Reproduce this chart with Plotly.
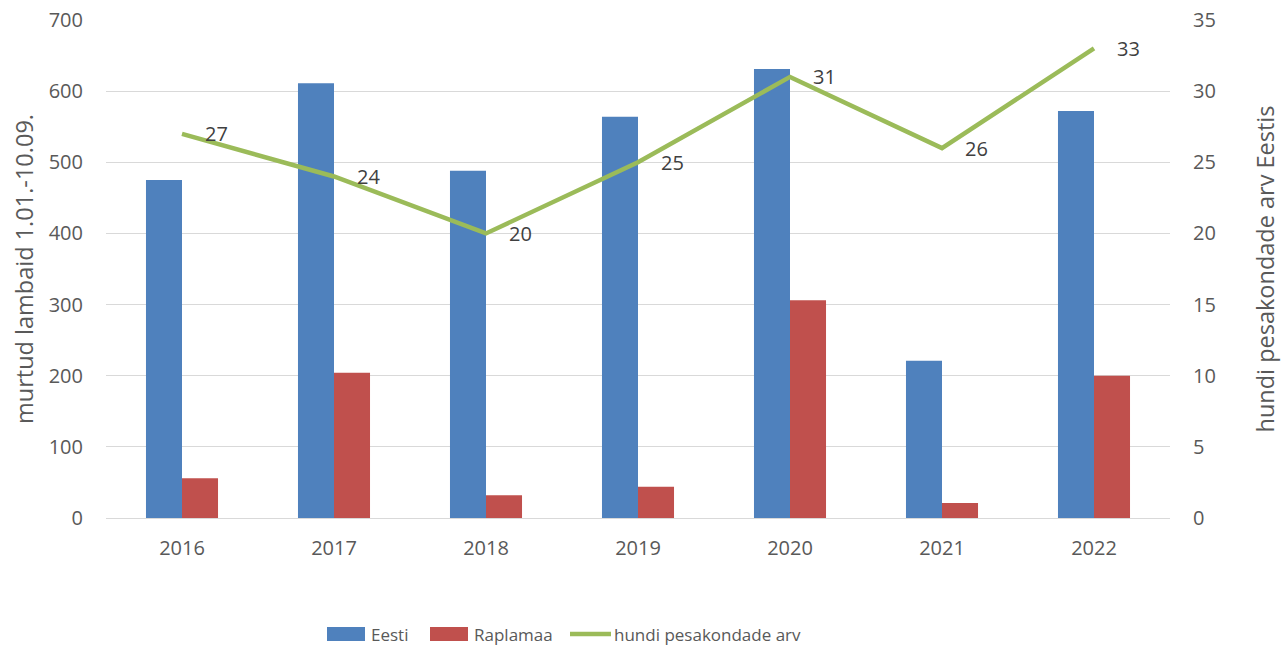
import plotly.graph_objects as go

years = ["2016", "2017", "2018", "2019", "2020", "2021", "2022"]
eesti = [475, 611, 488, 564, 631, 221, 572]
raplamaa = [56, 204, 32, 44, 306, 21, 200]
pesakonnad = [27, 24, 20, 25, 31, 26, 33]
series_names = ["Eesti", "Raplamaa", "hundi pesakondade arv"]
colors = ["#4F81BD", "#C0504D", "#9BBB59"]

FONT = "Open Sans"
TXT = "#595959"
FS = 20
FS_TITLE = 23.5
FS_LEG = 17

W, H = 1283, 647
L, R, T, B = 106, 113, 20, 129
PW, PH = W - L - R, H - T - B

def px(x):
    return (x - L) / PW

def py(y):
    return (H - B - y) / PH

fig = go.Figure()
fig.add_trace(go.Bar(x=years, y=eesti, name=series_names[0], marker=dict(color=colors[0], line=dict(width=0))))
fig.add_trace(go.Bar(x=years, y=raplamaa, name=series_names[1], marker=dict(color=colors[1], line=dict(width=0))))
fig.add_trace(go.Scatter(x=years, y=pesakonnad, name=series_names[2], yaxis="y2",
                         mode="lines", line=dict(color=colors[2], width=4.5)))

# data labels: category axis uses serial index positions
for i, v in enumerate(pesakonnad):
    fig.add_annotation(x=i, y=v, xref="x", yref="y2", text=str(v), showarrow=False,
                       xanchor="left", yanchor="middle", xshift=21,
                       font=dict(family=FONT, size=FS, color="#404040"))

# custom legend (wide swatches like the original)
leg_y = 634
fig.add_shape(type="rect", xref="paper", yref="paper", x0=px(327), x1=px(365),
              y0=py(641), y1=py(627), fillcolor=colors[0], line=dict(width=0))
fig.add_shape(type="rect", xref="paper", yref="paper", x0=px(430), x1=px(468),
              y0=py(641), y1=py(627), fillcolor=colors[1], line=dict(width=0))
fig.add_shape(type="line", xref="paper", yref="paper", x0=px(570), x1=px(611),
              y0=py(leg_y), y1=py(leg_y), line=dict(color=colors[2], width=4.5))
for name, xs in zip(series_names, [369, 472, 612]):
    fig.add_annotation(xref="paper", yref="paper", x=px(xs), y=py(leg_y), text=name,
                       showarrow=False, xanchor="left", yanchor="middle",
                       font=dict(family=FONT, size=FS_LEG, color=TXT))

fig.update_layout(
    width=W, height=H,
    margin=dict(l=L, r=R, t=T, b=B, autoexpand=False),
    paper_bgcolor="white", plot_bgcolor="white",
    barmode="group", bargap=0.526, bargroupgap=0,
    font=dict(family=FONT, size=FS, color=TXT),
    showlegend=False,
    xaxis=dict(type="category", range=[-0.5, len(years) - 0.5], showgrid=False, showline=False,
               ticks="", ticklabelstandoff=16, automargin=False,
               tickfont=dict(size=FS, color=TXT)),
    yaxis=dict(range=[0, 700], dtick=100, showgrid=True, gridcolor="#D9D9D9", gridwidth=1.3,
               zeroline=True, zerolinecolor="#D9D9D9", zerolinewidth=1.3,
               showline=False, ticks="", ticklabelstandoff=22, automargin=False,
               title=dict(text="murtud lambaid 1.01.-10.09.", standoff=8,
                          font=dict(size=FS_TITLE, color=TXT)),
               tickfont=dict(size=FS, color=TXT)),
    yaxis2=dict(range=[0, 35], dtick=5, overlaying="y", side="right", showgrid=False,
                zeroline=False, showline=False, ticks="", ticklabelstandoff=22, automargin=False,
                title=dict(text="hundi pesakondade arv Eestis", standoff=42,
                           font=dict(size=FS_TITLE, color=TXT)),
                tickfont=dict(size=FS, color=TXT)),
)

fig.write_html("out.html", config={"displayModeBar": False},
               post_script="document.body.style.margin='0';")
